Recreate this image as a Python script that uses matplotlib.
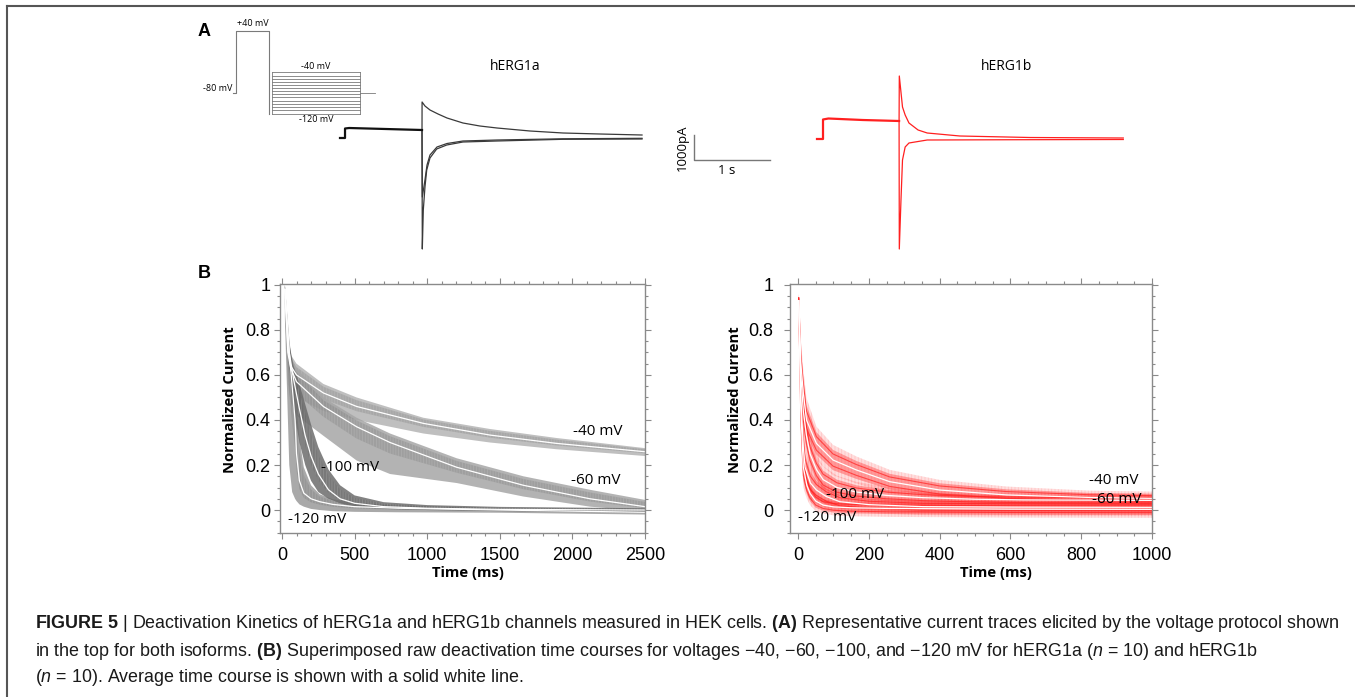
import matplotlib
matplotlib.use("Agg")
import matplotlib.pyplot as plt
from matplotlib import font_manager
from matplotlib.lines import Line2D
from matplotlib.ticker import MultipleLocator
import numpy as np

W, H = 1355, 697

# ---------------- panel A: voltage protocol (schematic, ms / mV) ----------------
proto_pulse_t = [-90, 0, 0, 1000, 1000]
proto_pulse_v = [-80, -80, 40, 40, -120]
proto_step_t = [1090, 3760]
proto_step_v = [-40, -46, -52, -58, -64, -70, -76, -82, -88, -94, -100, -106, -112, -120]
proto_hold_t = [3760, 4220]
proto_hold_v = -80

# ---------------- panel A: representative traces (s, pA) ----------------
a_pre_t = [0.0, 0.066, 0.066, 0.12, 0.6, 1.079]
a_pre_i = [0, 0, 380, 400, 360, 320]
a_up_t = [1.079, 1.08, 1.118, 1.184, 1.29, 1.408, 1.618, 1.84, 2.066, 2.5, 2.934, 3.42, 3.974]
a_up_i = [320, 1440, 1280, 1120, 960, 800, 600, 480, 400, 280, 200, 160, 120]
a_lo1_t = [1.079, 1.083, 1.096, 1.118, 1.141, 1.184, 1.272, 1.404, 1.618, 2.066, 2.934, 3.974]
a_lo1_i = [320, -4440, -2880, -1960, -1280, -800, -440, -280, -160, -120, -52, -40]
a_lo2_t = [1.079, 1.083, 1.118, 1.145, 1.184, 1.276, 1.408, 1.618, 2.066, 2.934, 3.974]
a_lo2_i = [320, -2360, -1680, -1080, -680, -360, -220, -120, -80, -32, -12]

b_pre_t = [0.0, 0.079, 0.079, 0.15, 0.6, 1.08]
b_pre_i = [0, 0, 780, 820, 760, 720]
b_up_t = [1.08, 1.083, 1.125, 1.16, 1.21, 1.33, 1.45, 1.88, 2.8, 4.03]
b_up_i = [720, 2520, 1280, 960, 640, 360, 240, 120, 60, 40]
b_lo_t = [1.08, 1.083, 1.105, 1.125, 1.16, 1.21, 1.45, 2.5, 4.03]
b_lo_i = [720, -4400, -2440, -840, -320, -160, -40, -30, -20]

# ---------------- panel B: hERG1a normalized deactivation (ms, I/Imax) ----------------
g40_t = [20, 40, 60, 100, 285, 514, 973, 1432, 1891, 2500]
g40_mean = [0.98, 0.72, 0.64, 0.60, 0.52, 0.46, 0.385, 0.333, 0.296, 0.259]
g40_hi = [1.0, 0.78, 0.69, 0.65, 0.56, 0.50, 0.41, 0.36, 0.32, 0.275]
g40_lo = [0.92, 0.64, 0.56, 0.50, 0.44, 0.40, 0.34, 0.30, 0.27, 0.24]

g60_t = [20, 40, 60, 100, 285, 514, 744, 1203, 1662, 2121, 2500]
g60_mean = [0.98, 0.70, 0.63, 0.57, 0.46, 0.37, 0.30, 0.19, 0.11, 0.05, 0.015]
g60_hi = [1.0, 0.76, 0.68, 0.63, 0.50, 0.41, 0.34, 0.23, 0.15, 0.09, 0.045]
g60_lo = [0.90, 0.56, 0.48, 0.42, 0.33, 0.22, 0.16, 0.12, 0.06, 0.015, -0.005]

g100_t = [20, 50, 80, 120, 160, 200, 250, 320, 400, 500, 700, 1000, 1500, 2500]
g100_mean = [0.98, 0.70, 0.58, 0.45, 0.33, 0.24, 0.16, 0.09, 0.05, 0.03, 0.015, 0.008, 0.003, 0.0]
g100_hi = [1.0, 0.74, 0.64, 0.56, 0.47, 0.38, 0.28, 0.18, 0.11, 0.065, 0.035, 0.022, 0.014, 0.008]
g100_lo = [0.95, 0.64, 0.45, 0.30, 0.20, 0.13, 0.08, 0.05, 0.03, 0.015, 0.005, 0.0, -0.005, -0.01]

g120_t = [20, 50, 70, 90, 100, 120, 150, 200, 260, 350, 500, 800, 1500, 2500]
g120_mean = [0.98, 0.70, 0.55, 0.40, 0.25, 0.13, 0.075, 0.05, 0.037, 0.025, 0.015, 0.008, 0.0, -0.01]
g120_hi = [1.0, 0.76, 0.65, 0.56, 0.46, 0.32, 0.19, 0.11, 0.07, 0.048, 0.032, 0.02, 0.008, 0.0]
g120_lo = [0.85, 0.20, 0.08, 0.05, 0.04, 0.025, 0.015, 0.005, 0.0, -0.005, -0.008, -0.01, -0.012, -0.02]

# ---------------- panel B: hERG1b normalized deactivation ----------------
r40_t = [2, 8, 15, 24, 52, 99, 165, 259, 400, 589, 824, 1000]
r40_mean = [0.93, 0.65, 0.52, 0.40, 0.296, 0.222, 0.178, 0.126, 0.089, 0.067, 0.056, 0.052]
r40_spread = [0.02, 0.07, 0.07, 0.065, 0.05, 0.045, 0.04, 0.035, 0.03, 0.025, 0.02, 0.02]

r60_t = [2, 8, 15, 24, 34, 52, 71, 110, 165, 250, 353, 500, 636, 1000]
r60_mean = [0.93, 0.60, 0.44, 0.33, 0.25, 0.18, 0.135, 0.10, 0.08, 0.065, 0.055, 0.048, 0.045, 0.043]
r60_spread = [0.02, 0.07, 0.07, 0.06, 0.05, 0.045, 0.04, 0.035, 0.03, 0.025, 0.022, 0.02, 0.02, 0.02]

r100_t = [2, 8, 15, 20, 35, 52, 80, 118, 200, 353, 600, 1000]
r100_mean = [0.93, 0.50, 0.28, 0.19, 0.12, 0.089, 0.06, 0.037, 0.024, 0.015, 0.013, 0.012]
r100_spread = [0.02, 0.08, 0.07, 0.06, 0.05, 0.04, 0.035, 0.03, 0.025, 0.025, 0.025, 0.025]

r120_t = [2, 8, 15, 25, 34, 50, 71, 100, 150, 259, 600, 1000]
r120_mean = [0.93, 0.45, 0.19, 0.11, 0.074, 0.04, 0.022, 0.014, 0.01, 0.007, 0.004, 0.003]
r120_spread = [0.02, 0.08, 0.06, 0.04, 0.035, 0.03, 0.025, 0.025, 0.025, 0.025, 0.025, 0.025]

y_ticks = [0, 0.2, 0.4, 0.6, 0.8, 1]
y_tick_labels = ["0", "0.2", "0.4", "0.6", "0.8", "1"]
x_ticks_a = [0, 500, 1000, 1500, 2000, 2500]
x_ticks_b = [0, 200, 400, 600, 800, 1000]

caption_lines = [
    r"$\mathbf{FIGURE\ 5}$ | Deactivation Kinetics of hERG1a and hERG1b channels measured in HEK cells. "
    r"$\mathbf{(A)}$ Representative current traces elicited by the voltage protocol shown",
    r"in the top for both isoforms. $\mathbf{(B)}$ Superimposed raw deactivation time courses for voltages "
    "\u221240, \u221260, \u2212100, and \u2212120 mV for hERG1a ($\\mathit{n}$ = 10) and hERG1b",
    r"($\mathit{n}$ = 10). Average time course is shown with a solid white line.",
]

# ---------------- style ----------------
installed = {f.name for f in font_manager.fontManager.ttflist}
CAP_FONT = "Liberation Sans Narrow" if "Liberation Sans Narrow" in installed else "Liberation Sans"
plt.rcParams.update({
    "font.family": ["Open Sans", "DejaVu Sans"],
    "mathtext.fontset": "custom",
    "mathtext.rm": CAP_FONT,
    "mathtext.bf": CAP_FONT + ":bold",
    "mathtext.it": CAP_FONT + ":italic",
    "hatch.linewidth": 0.6,
})

PX_PER_S = 76.0
PA_PER_PX = 40.0


def fx(x):
    return x / W


def fy(y):
    return 1 - y / H


def px_axes(fig, x0, y0, x1, y1):
    ax = fig.add_axes([fx(x0), fy(y1), (x1 - x0) / W, (y1 - y0) / H])
    ax.set_axis_off()
    return ax


def trace_axes(fig, x0, y0, x1, y1, t0_px, i0_px):
    """Axes in (s, pA) with the common scale bar calibration."""
    ax = px_axes(fig, x0, y0, x1, y1)
    ax.set_xlim((x0 - t0_px) / PX_PER_S, (x1 - t0_px) / PX_PER_S)
    ax.set_ylim(-(y1 - i0_px) * PA_PER_PX, (i0_px - y0) * PA_PER_PX)
    return ax


def style_b_axes(ax, xticks, xminor, xlim, ypad):
    ax.set_xlim(*xlim)
    ax.set_ylim(-0.102, 1.004)
    ax.set_xticks(xticks)
    ax.set_xticklabels([str(v) for v in xticks])
    ax.set_yticks(y_ticks)
    ax.set_yticklabels(y_tick_labels)
    ax.xaxis.set_minor_locator(MultipleLocator(xminor))
    ax.yaxis.set_minor_locator(MultipleLocator(0.05))
    ax.tick_params(which="both", direction="out", top=True, right=True,
                   color="#8a8a8a", width=0.8)
    ax.tick_params(which="major", length=4)
    ax.tick_params(which="minor", length=2.5)
    ax.tick_params(axis="y", pad=ypad, labelsize=13)
    ax.tick_params(axis="x", pad=6, labelsize=13)
    for lab in ax.get_xticklabels() + ax.get_yticklabels():
        lab.set_fontfamily("Liberation Sans")
    for sp in ax.spines.values():
        sp.set_color("#8a8a8a")
        sp.set_linewidth(1.0)
    ax.set_ylabel("Normalized Current", fontsize=10.6, fontweight="bold")
    ax.set_xlabel("Time (ms)", fontsize=10.6, fontweight="bold")


fig = plt.figure(figsize=(W / 100, H / 100), dpi=100)

# outer frame of the figure box (left and top edges)
fig.add_artist(Line2D([fx(7), fx(7)], [0, fy(6)], color="#555555", lw=1.5))
fig.add_artist(Line2D([fx(7), 1], [fy(6), fy(6)], color="#555555", lw=1.5))

# panel letters
fig.text(fx(204), fy(31), "A", fontsize=13, fontweight="bold", family="Liberation Sans",
         ha="center", va="center")
fig.text(fx(204), fy(274), "B", fontsize=13, fontweight="bold", family="Liberation Sans",
         ha="center", va="center")

# ---- voltage protocol ----
axp = px_axes(fig, 200, 10, 390, 130)
axp.set_xlim((200 - 236) / 0.033, (390 - 236) / 0.033)
axp.set_ylim(-120 - (130 - 114) / 0.519, 40 + (31 - 10) / 0.519)
pc = "#7a7a7a"
axp.plot(proto_pulse_t, proto_pulse_v, color=pc, lw=0.8)
for v in proto_step_v:
    axp.plot(proto_step_t, [v, v], color=pc, lw=0.6)
axp.plot([proto_step_t[0]] * 2, [proto_step_v[0], proto_step_v[-1]], color=pc, lw=0.6)
axp.plot([proto_step_t[1]] * 2, [proto_step_v[0], proto_step_v[-1]], color=pc, lw=0.6)
axp.plot(proto_hold_t, [proto_hold_v] * 2, color=pc, lw=0.6)
axp.text(500, 46, "+40 mV", fontsize=6.5, ha="center", va="bottom")
axp.text(sum(proto_step_t) / 2, proto_step_v[0] + 2, "-40 mV", fontsize=6.5, ha="center", va="bottom")
axp.text(sum(proto_step_t) / 2, proto_step_v[-1] - 2, "-120 mV", fontsize=6.5, ha="center", va="top")
axp.text(-100, -70, "-80 mV", fontsize=6.5, ha="right", va="center")

# ---- hERG1a traces ----
ax1 = trace_axes(fig, 330, 90, 660, 260, 340, 138)
for t, i in [(a_up_t, a_up_i), (a_lo2_t, a_lo2_i), (a_lo1_t, a_lo1_i)]:
    ax1.plot(t, i, color="#3a3a3a", lw=0.9)
ax1.plot(a_pre_t, a_pre_i, color="#111111", lw=1.6)
fig.text(fx(515), fy(66), "hERG1a", fontsize=10, ha="center", va="center")

# ---- hERG1b traces ----
ax2 = trace_axes(fig, 805, 70, 1135, 260, 817, 139)
for t, i in [(b_up_t, b_up_i), (b_lo_t, b_lo_i)]:
    ax2.plot(t, i, color="#ff2020", lw=0.9)
ax2.plot(b_pre_t, b_pre_i, color="#ff2020", lw=1.6)
fig.text(fx(1007), fy(66), "hERG1b", fontsize=10, ha="center", va="center")

# ---- scale bar: 1 s / 1000 pA ----
axs = trace_axes(fig, 670, 120, 790, 190, 694, 160)
axs.plot([0, 0, 1], [1000, 0, 0], color="#777777", lw=1.0)
axs.text(0.43, -180, "1 s", fontsize=9.5, ha="center", va="top")
axs.text(-0.15, 500, "1000pA", fontsize=9.5, rotation=90, ha="center", va="center")

# ---- panel B, hERG1a ----
axl = fig.add_axes([fx(280), fy(533), 365 / W, 249 / H])
gray_sets = [
    (g40_t, g40_mean, g40_lo, g40_hi, "#b4b4b4"),
    (g60_t, g60_mean, g60_lo, g60_hi, "#a6a6a6"),
    (g120_t, g120_mean, g120_lo, g120_hi, "#9a9a9a"),
    (g100_t, g100_mean, g100_lo, g100_hi, "#6c6c6c"),
]
for t, m, lo, hi, c in gray_sets:
    axl.fill_between(t, lo, hi, facecolor=c, alpha=0.85, lw=0)
    # darker core where most of the single-cell traces overlap
    core_lo = [a - (a - b) * 0.35 for a, b in zip(m, lo)]
    core_hi = [a + (b - a) * 0.7 for a, b in zip(m, hi)]
    axl.fill_between(t, core_lo, core_hi, facecolor="#5a5a5a", alpha=0.22, lw=0,
                     hatch="||||||", edgecolor=(0.85, 0.85, 0.85, 0.35))
for t, m, lo, hi, c in gray_sets:
    axl.plot(t, m, color="white", lw=0.9)
style_b_axes(axl, x_ticks_a, 100, ((280 - 282) / 0.1452, 2500), 3.0)
axl.yaxis.set_label_coords(-0.118, 0.534)
axl.xaxis.set_label_coords(0.515, -0.133)
for txt, t, v in [("-40 mV", 2176, 0.351), ("-60 mV", 2162, 0.129),
                  ("-100 mV", 468, 0.191), ("-120 mV", 241, -0.04)]:
    axl.text(t, v, txt, fontsize=11, ha="center", va="center")

# ---- panel B, hERG1b ----
axr = fig.add_axes([fx(790), fy(533), 362 / W, 249 / H])
red_sets = [
    (r40_t, r40_mean, r40_spread),
    (r60_t, r60_mean, r60_spread),
    (r100_t, r100_mean, r100_spread),
    (r120_t, r120_mean, r120_spread),
]
for t, m, s in red_sets:
    m = np.asarray(m)
    s = np.asarray(s)
    axr.fill_between(t, m - 1.5 * s, m + 1.5 * s, facecolor="#ff4a4a", alpha=0.18, lw=0,
                     hatch="|||||", edgecolor=(1, 0.3, 0.3, 0.35))
    axr.fill_between(t, m - s, m + s, facecolor="#ff2a2a", alpha=0.38, lw=0)
    axr.plot(t, m + s * 0.6, color="#ff2020", lw=0.8, alpha=0.7)
    axr.plot(t, m - s * 0.6, color="#ff2020", lw=0.8, alpha=0.7)
for t, m, s in red_sets:
    axr.plot(t, m, color="white", lw=0.9)
style_b_axes(axr, x_ticks_b, 50, ((790 - 798) / 0.354, 1000), 8.0)
axr.yaxis.set_label_coords(-0.133, 0.534)
axr.xaxis.set_label_coords(0.569, -0.133)
for txt, t, v in [("-40 mV", 893, 0.133), ("-60 mV", 900, 0.049),
                  ("-100 mV", 161, 0.067), ("-120 mV", 82, -0.031)]:
    axr.text(t, v, txt, fontsize=11, ha="center", va="center")

# ---- caption, sized so the first line spans the text block ----
renderer = fig.canvas.get_renderer()
probe = fig.text(0, 0, caption_lines[0], fontsize=10, family=CAP_FONT)
width_px = probe.get_window_extent(renderer).width
probe.remove()
cap_size = 10 * (1300 / width_px)
for line, yc in zip(caption_lines, [623, 651, 677]):
    fig.text(fx(35), fy(yc), line, fontsize=cap_size, family=CAP_FONT,
             ha="left", va="center", color="#1a1a1a")

fig.savefig("out.png", dpi=100)
